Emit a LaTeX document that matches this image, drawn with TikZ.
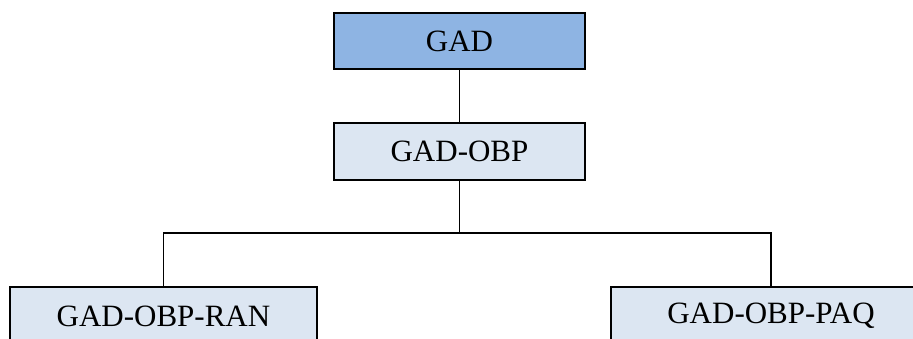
\documentclass[tikz,border=0pt]{standalone}
\usepackage{fontspec}
\setmainfont{Liberation Serif}
\definecolor{darkblue}{HTML}{8EB4E3}
\definecolor{lightblue}{HTML}{DCE6F2}
\begin{document}
\begin{tikzpicture}[x=1pt,y=1pt,
  box/.style={draw=black, line width=1.6pt, rectangle, inner sep=0pt,
    font=\fontsize{31}{36}\selectfont},
  link/.style={draw=black, line width=1.1pt}]
\useasboundingbox (0,0) rectangle (913,338);
\clip (0,0) rectangle (913,338);
\node[box, fill=darkblue, minimum width=251pt, minimum height=56pt] (gad) at (459.5,297) {GAD};
\node[box, fill=lightblue, minimum width=251pt, minimum height=57pt] (obp) at (459.5,186.5) {GAD-OBP};
\node[box, fill=lightblue, minimum width=307pt, minimum height=58pt] (ran) at (163.5,22) {GAD-OBP-RAN};
\node[box, fill=lightblue, minimum width=320pt, minimum height=58pt] (paq) at (771,22) {GAD-OBP-PAQ};
\coordinate (bus) at (459.5,105);
\draw[link] (gad.south) -- (obp.north);
\draw[link] (obp.south) -- (bus);
\draw[link] (ran.north) |- (bus) -| (paq.north);
\end{tikzpicture}
\end{document}
